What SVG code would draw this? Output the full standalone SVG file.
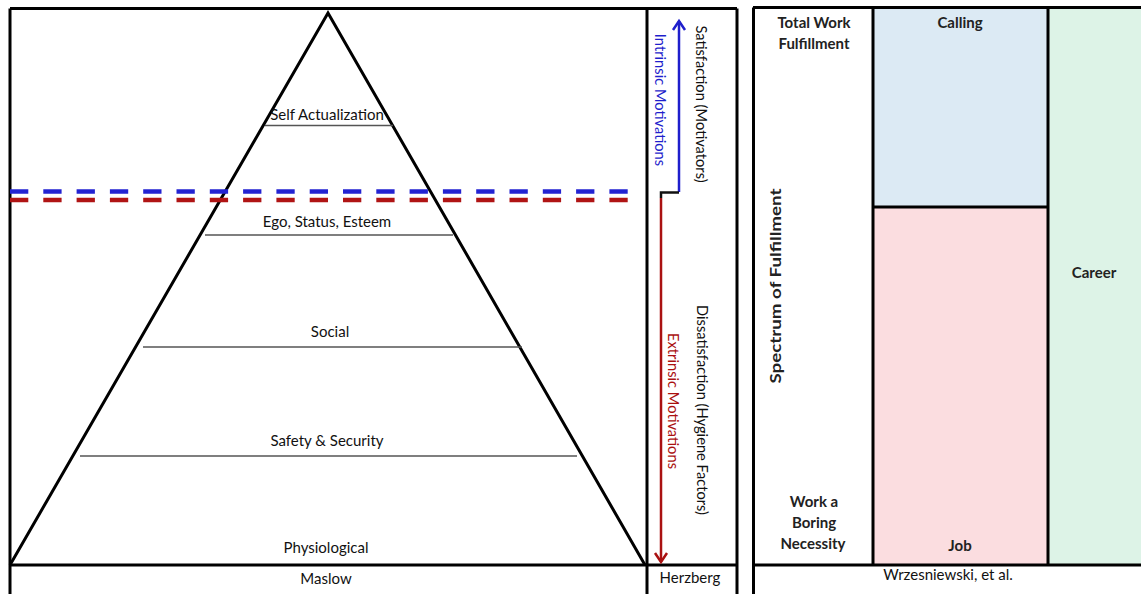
<svg xmlns="http://www.w3.org/2000/svg" width="1141" height="594" viewBox="0 0 1141 594">
  <defs>
    <style>
      .frame { stroke: #000; stroke-width: 3; fill: none; }
      .level { stroke: #555; stroke-width: 1.3; }
      .lbl { font-family: Lato, "Open Sans", sans-serif; font-size: 15px; fill: #111; text-anchor: middle; }
      .side { font-family: Lato, "Open Sans", sans-serif; font-size: 14.7px; text-anchor: middle; }
      .bold { font-family: Lato, "Open Sans", sans-serif; font-weight: bold; font-size: 15px; fill: #222; text-anchor: middle; }
      .dash { stroke-width: 4.5; stroke-dasharray: 18.3 15; fill: none; }
    </style>
  </defs>

  <!-- Maslow panel -->
  <g id="maslow">
    <rect x="0" y="0" width="1141" height="594" fill="#fff"/>
    <line class="frame" x1="10" y1="8.5" x2="737" y2="8.5"/>
    <line class="frame" x1="10" y1="8.5" x2="10" y2="594"/>
    <line class="frame" x1="647" y1="8.5" x2="647" y2="594"/>
    <line class="frame" x1="737" y1="8.5" x2="737" y2="594"/>
    <line class="frame" x1="10" y1="565" x2="737" y2="565"/>
    <polyline class="frame" points="10,565 328,13 645,565"/>
    <line class="level" x1="265" y1="125.5" x2="393" y2="125.5"/>
    <line class="level" x1="205" y1="235" x2="453" y2="235"/>
    <line class="level" x1="143" y1="347" x2="522" y2="347"/>
    <line class="level" x1="80" y1="456" x2="577" y2="456"/>
    <text class="lbl" x="327" y="120">Self Actualization</text>
    <text class="lbl" x="327" y="227">Ego, Status, Esteem</text>
    <text class="lbl" x="330" y="337">Social</text>
    <text class="lbl" x="327" y="446">Safety &amp; Security</text>
    <text class="lbl" x="326" y="553">Physiological</text>
    <text class="lbl" x="326" y="584">Maslow</text>
  </g>

  <!-- Herzberg column -->
  <g id="herzberg">
    <text class="side" fill="#1f1fcc" transform="translate(655,100) rotate(90)">Intrinsic Motivations</text>
    <text class="side" fill="#111" transform="translate(696,104) rotate(90)">Satisfaction (Motivators)</text>
    <text class="side" fill="#aa1111" transform="translate(668,401) rotate(90)">Extrinsic Motivations</text>
    <text class="side" fill="#111" transform="translate(697,410) rotate(90)">Dissatisfaction (Hygiene Factors)</text>
    <text class="lbl" x="690" y="583">Herzberg</text>
  </g>

  <!-- Wrzesniewski panel -->
  <g id="wrzesniewski">
    <rect x="873" y="7" width="175" height="200" fill="#dceaf4"/>
    <rect x="873" y="207" width="175" height="358" fill="#fbdde0"/>
    <rect x="1048" y="7" width="93" height="558" fill="#ddf3e7"/>
    <line class="frame" x1="753" y1="7.5" x2="1141" y2="7.5"/>
    <line class="frame" x1="753.5" y1="7.5" x2="753.5" y2="594"/>
    <line class="frame" x1="873" y1="7.5" x2="873" y2="565" stroke-width="4"/>
    <line class="frame" x1="1048" y1="7.5" x2="1048" y2="565"/>
    <line class="frame" x1="873" y1="207" x2="1048" y2="207"/>
    <line class="frame" x1="753" y1="565" x2="1141" y2="565"/>
    <text class="bold" x="814" y="28">Total Work</text>
    <text class="bold" x="814" y="49">Fulfillment</text>
    <text class="bold" font-size="21" textLength="195" lengthAdjust="spacingAndGlyphs" transform="translate(781,286) rotate(-90)">Spectrum of Fulfillment</text>
    <text class="bold" x="814" y="507">Work a</text>
    <text class="bold" x="814" y="528">Boring</text>
    <text class="bold" x="813" y="549">Necessity</text>
    <text class="bold" x="960" y="28">Calling</text>
    <text class="bold" x="960" y="551">Job</text>
    <text class="bold" x="1094" y="278">Career</text>
    <text class="lbl" x="948" y="580" font-size="16.5">Wrzesniewski, et al.</text>
  </g>

  <!-- connectors: threshold lines and motivation arrows -->
  <g id="connectors">
    <line class="dash" stroke="#2323d2" x1="10" y1="191.5" x2="629" y2="191.5"/>
    <line class="dash" stroke="#b01414" x1="10" y1="200" x2="629" y2="200"/>
    <polyline fill="none" stroke="#1f1fcc" stroke-width="2.5" points="679,192 679,21"/>
    <polyline fill="none" stroke="#1f1fcc" stroke-width="2.5" points="673,30 679,21 685,30"/>
    <polyline fill="none" stroke="#111" stroke-width="2.5" points="679,192.5 661,192.5 661,198"/>
    <polyline fill="none" stroke="#aa1111" stroke-width="2.5" points="661,198 661,562"/>
    <polyline fill="none" stroke="#aa1111" stroke-width="2.5" points="655,553 661,562 667,553"/>
  </g>
</svg>
